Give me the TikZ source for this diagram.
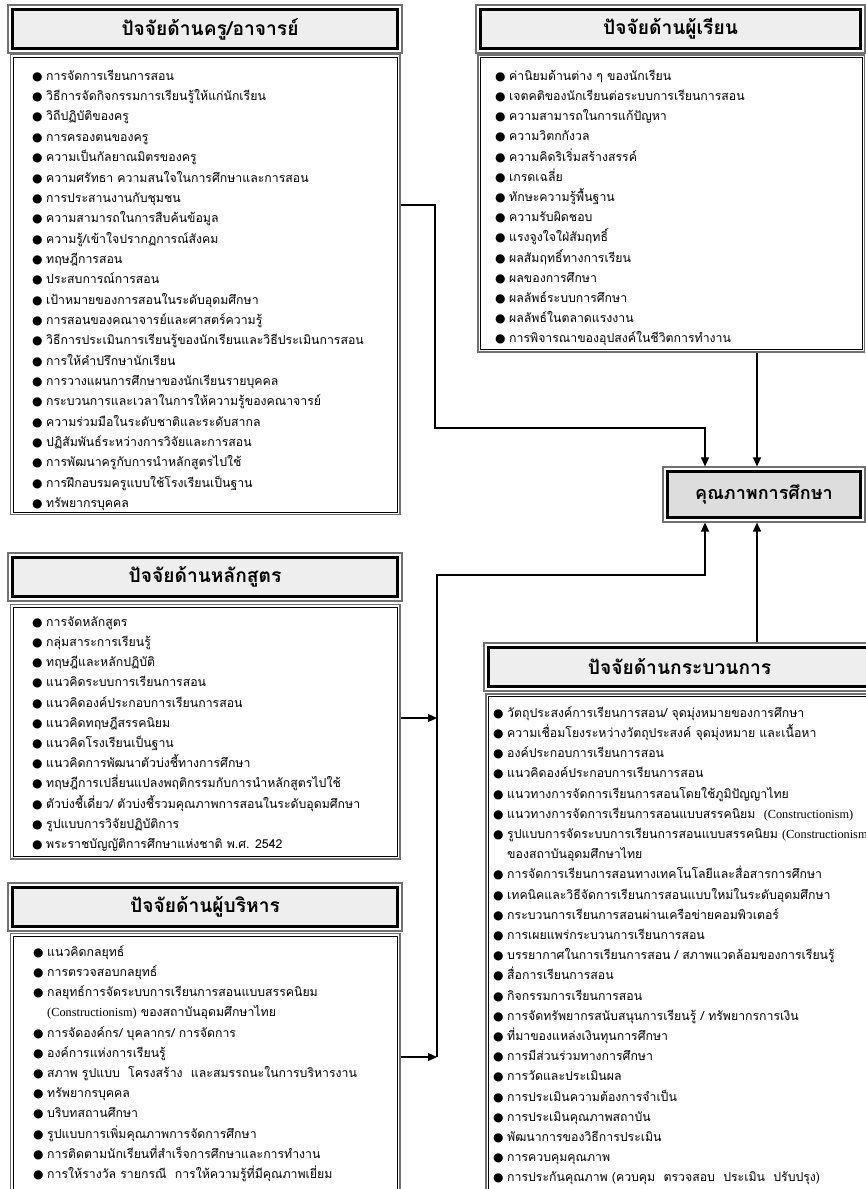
\documentclass[tikz,border=0pt]{standalone}
\usepackage{fontspec}
\newfontfamily\thai[Script=Thai]{Loma}
\newfontfamily\sym{DejaVu Sans}
\newfontfamily\lat{Liberation Serif}
\usetikzlibrary{arrows.meta,calc}

\definecolor{hdrfill}{HTML}{EEEEEE}
\definecolor{qfill}{HTML}{DDDDDD}
\definecolor{rimgray}{HTML}{707070}

% fonts for headings and list text
\newcommand\hdrfont{\thai\bfseries\fontsize{19.2}{22}\selectfont}
\newcommand\qfont{\thai\bfseries\fontsize{18}{20}\selectfont}
\newcommand\listfont[1]{\thai\fontsize{12.3}{#1}\selectfont\lineskiplimit-100pt\relax}
% list helpers: bullet line, continuation line, latin term
\newcommand\bul{\strut\makebox[14pt][l]{\sym\fontsize{12}{12}\selectfont ●}}
\newcommand\gap{\strut\hspace*{14pt}}
\newcommand\con{{\lat\fontsize{12.3}{14}\selectfont (Constructionism)}}

\tikzset{
  rim/.style={draw=rimgray, line width=1.2pt, inner sep=0pt},
  hdr/.style={draw=black, line width=3pt, fill=hdrfill, inner sep=0pt, font=\hdrfont},
  qbox/.style={hdr, fill=qfill, font=\qfont},
  cbox/.style={draw=black, line width=0.9pt, fill=white, inner sep=0pt},
  items/.style={anchor=north west, inner sep=0pt, align=left, font=\listfont{#1}},
  items/.default=20.2,
  arr/.style={line width=1.3pt, -{Triangle[length=9pt,width=8pt]}},
}

\begin{document}
\begin{tikzpicture}[x=1pt,y=-1pt]
\clip (0,0) rectangle (866,1189);
\fill[white] (0,0) rectangle (866,1189);

% ---------- teacher factors ----------
\node[rim, minimum width=394, minimum height=48] (th) at (205,29) {};
\node[hdr, minimum width=385, minimum height=39] (thi) at (th.center) {\hspace*{10pt}ปัจจัยด้านครู/อาจารย์};
\node[rim, minimum width=389.5, minimum height=460] (tc) at (205.25,284.5) {};
\node[cbox, minimum width=384.5, minimum height=455] (tci) at (tc.center) {};
\node[items=20.35] (tl) at (32,65.8) {%
\bul การจัดการเรียนการสอน\\
\bul วิธีการจัดกิจกรรมการเรียนรู้ให้แก่นักเรียน\\
\bul วิถีปฏิบัติของครู\\
\bul การครองตนของครู\\
\bul ความเป็นกัลยาณมิตรของครู\\
\bul ความศรัทธา ความสนใจในการศึกษาและการสอน\\
\bul การประสานงานกับชุมชน\\
\bul ความสามารถในการสืบค้นข้อมูล\\
\bul ความรู้/เข้าใจปรากฏการณ์สังคม\\
\bul ทฤษฎีการสอน\\
\bul ประสบการณ์การสอน\\
\bul เป้าหมายของการสอนในระดับอุดมศึกษา\\
\bul การสอนของคณาจารย์และศาสตร์ความรู้\\
\bul วิธีการประเมินการเรียนรู้ของนักเรียนและวิธีประเมินการสอน\\
\bul การให้คำปรึกษานักเรียน\\
\bul การวางแผนการศึกษาของนักเรียนรายบุคคล\\
\bul กระบวนการและเวลาในการให้ความรู้ของคณาจารย์\\
\bul ความร่วมมือในระดับชาติและระดับสากล\\
\bul ปฏิสัมพันธ์ระหว่างการวิจัยและการสอน\\
\bul การพัฒนาครูกับการนำหลักสูตรไปใช้\\
\bul การฝึกอบรมครูแบบใช้โรงเรียนเป็นฐาน\\
\bul ทรัพยากรบุคคล};

% ---------- learner factors ----------
\node[rim, minimum width=389, minimum height=48] (lh) at (670.5,29) {};
\node[hdr, minimum width=380, minimum height=39] (lhi) at (lh.center) {ปัจจัยด้านผู้เรียน};
\node[rim, minimum width=386.5, minimum height=297] (lc) at (671.25,203.5) {};
\node[cbox, minimum width=381.5, minimum height=292] (lci) at (lc.center) {};
\node[items] (ll) at (495,65.9) {%
\bul ค่านิยมด้านต่าง ๆ ของนักเรียน\\
\bul เจตคติของนักเรียนต่อระบบการเรียนการสอน\\
\bul ความสามารถในการแก้ปัญหา\\
\bul ความวิตกกังวล\\
\bul ความคิดริเริ่มสร้างสรรค์\\
\bul เกรดเฉลี่ย\\
\bul ทักษะความรู้พื้นฐาน\\
\bul ความรับผิดชอบ\\
\bul แรงจูงใจใฝ่สัมฤทธิ์\\
\bul ผลสัมฤทธิ์ทางการเรียน\\
\bul ผลของการศึกษา\\
\bul ผลลัพธ์ระบบการศึกษา\\
\bul ผลลัพธ์ในตลาดแรงงาน\\
\bul การพิจารณาของอุปสงค์ในชีวิตการทำงาน};

% ---------- education quality ----------
\node[rim, minimum width=202, minimum height=55] (q) at (764,494.5) {};
\node[qbox, minimum width=193, minimum height=46] (qi) at (q.center) {คุณภาพการศึกษา};

% ---------- curriculum factors ----------
\node[rim, minimum width=394, minimum height=48] (ch) at (205,577) {};
\node[hdr, minimum width=385, minimum height=39] (chi) at (ch.center) {ปัจจัยด้านหลักสูตร};
\node[rim, minimum width=389.5, minimum height=254.5] (cc) at (205.25,731.75) {};
\node[cbox, minimum width=384.5, minimum height=249.5] (cci) at (cc.center) {};
\node[items] (cl) at (32,611.9) {%
\bul การจัดหลักสูตร\\
\bul กลุ่มสาระการเรียนรู้\\
\bul ทฤษฎีและหลักปฏิบัติ\\
\bul แนวคิดระบบการเรียนการสอน\\
\bul แนวคิดองค์ประกอบการเรียนการสอน\\
\bul แนวคิดทฤษฎีสรรคนิยม\\
\bul แนวคิดโรงเรียนเป็นฐาน\\
\bul แนวคิดการพัฒนาตัวบ่งชี้ทางการศึกษา\\
\bul ทฤษฎีการเปลี่ยนแปลงพฤติกรรมกับการนำหลักสูตรไปใช้\\
\bul ตัวบ่งชี้เดี่ยว/ ตัวบ่งชี้รวมคุณภาพการสอนในระดับอุดมศึกษา\\
\bul รูปแบบการวิจัยปฏิบัติการ\\
\bul พระราชบัญญัติการศึกษาแห่งชาติ พ.ศ. 2542};

% ---------- administrator factors ----------
\node[rim, minimum width=394, minimum height=48] (ah) at (205,907) {};
\node[hdr, minimum width=385, minimum height=39] (ahi) at (ah.center) {ปัจจัยด้านผู้บริหาร};
\node[rim, minimum width=389.5, minimum height=266.5] (ac) at (205.25,1066.75) {};
\node[cbox, minimum width=384.5, minimum height=261.5] (aci) at (ac.center) {};
\node[items] (al) at (33,941.9) {%
\bul แนวคิดกลยุทธ์\\
\bul การตรวจสอบกลยุทธ์\\
\bul กลยุทธ์การจัดระบบการเรียนการสอนแบบสรรคนิยม\\
\gap \con\ ของสถาบันอุดมศึกษาไทย\\
\bul การจัดองค์กร/ บุคลากร/ การจัดการ\\
\bul องค์การแห่งการเรียนรู้\\
\bul สภาพ รูปแบบ\ \ โครงสร้าง\ \ และสมรรถนะในการบริหารงาน\\
\bul ทรัพยากรบุคคล\\
\bul บริบทสถานศึกษา\\
\bul รูปแบบการเพิ่มคุณภาพการจัดการศึกษา\\
\bul การติดตามนักเรียนที่สำเร็จการศึกษาและการทำงาน\\
\bul การให้รางวัล รายกรณี\ \ การให้ความรู้ที่มีคุณภาพเยี่ยม};

% ---------- process factors ----------
\node[rim, minimum width=391, minimum height=48] (ph) at (679.5,667) {};
\node[hdr, minimum width=382, minimum height=39] (phi) at (ph.center) {ปัจจัยด้านกระบวนการ};
\node[rim, minimum width=394, minimum height=506] (pc) at (683,947) {};
\node[cbox, minimum width=389, minimum height=501] (pci) at (pc.center) {};
\node[items] (pl) at (493,702.9) {%
\bul วัตถุประสงค์การเรียนการสอน/ จุดมุ่งหมายของการศึกษา\\
\bul ความเชื่อมโยงระหว่างวัตถุประสงค์ จุดมุ่งหมาย และเนื้อหา\\
\bul องค์ประกอบการเรียนการสอน\\
\bul แนวคิดองค์ประกอบการเรียนการสอน\\
\bul แนวทางการจัดการเรียนการสอนโดยใช้ภูมิปัญญาไทย\\
\bul แนวทางการจัดการเรียนการสอนแบบสรรคนิยม\ \ \con\\
\bul รูปแบบการจัดระบบการเรียนการสอนแบบสรรคนิยม \con\\
\gap ของสถาบันอุดมศึกษาไทย\\
\bul การจัดการเรียนการสอนทางเทคโนโลยีและสื่อสารการศึกษา\\
\bul เทคนิคและวิธีจัดการเรียนการสอนแบบใหม่ในระดับอุดมศึกษา\\
\bul กระบวนการเรียนการสอนผ่านเครือข่ายคอมพิวเตอร์\\
\bul การเผยแพร่กระบวนการเรียนการสอน\\
\bul บรรยากาศในการเรียนการสอน / สภาพแวดล้อมของการเรียนรู้\\
\bul สื่อการเรียนการสอน\\
\bul กิจกรรมการเรียนการสอน\\
\bul การจัดทรัพยากรสนับสนุนการเรียนรู้ / ทรัพยากรการเงิน\\
\bul ที่มาของแหล่งเงินทุนการศึกษา\\
\bul การมีส่วนร่วมทางการศึกษา\\
\bul การวัดและประเมินผล\\
\bul การประเมินความต้องการจำเป็น\\
\bul การประเมินคุณภาพสถาบัน\\
\bul พัฒนาการของวิธีการประเมิน\\
\bul การควบคุมคุณภาพ\\
\bul การประกันคุณภาพ (ควบคุม\ \ ตรวจสอบ\ \ ประเมิน\ \ ปรับปรุง)};

% ---------- connectors ----------
\coordinate (tq1) at (435,205);
\coordinate (tq2) at (705,428);
\coordinate (qx1) at (705,0);
\coordinate (qx2) at (757,0);
\coordinate (bust) at (437,575);
\coordinate (busm) at (437,718);
\coordinate (busb) at (437,1057);

\draw[arr] (tc.east |- tq1) -- (tq1) |- (tq2) -- (tq2 |- q.north);
\draw[arr] (lc.south -| qx2) -- (q.north -| qx2);
\draw[arr] (ph.north -| qx2) -- (q.south -| qx2);
\draw[arr] (cc.east |- busm) -- (busm);
\draw[arr] (ac.east |- busb) -- (busb);
\draw[arr] (busb) -- (bust) -| (q.south -| qx1);
\end{tikzpicture}
\end{document}
